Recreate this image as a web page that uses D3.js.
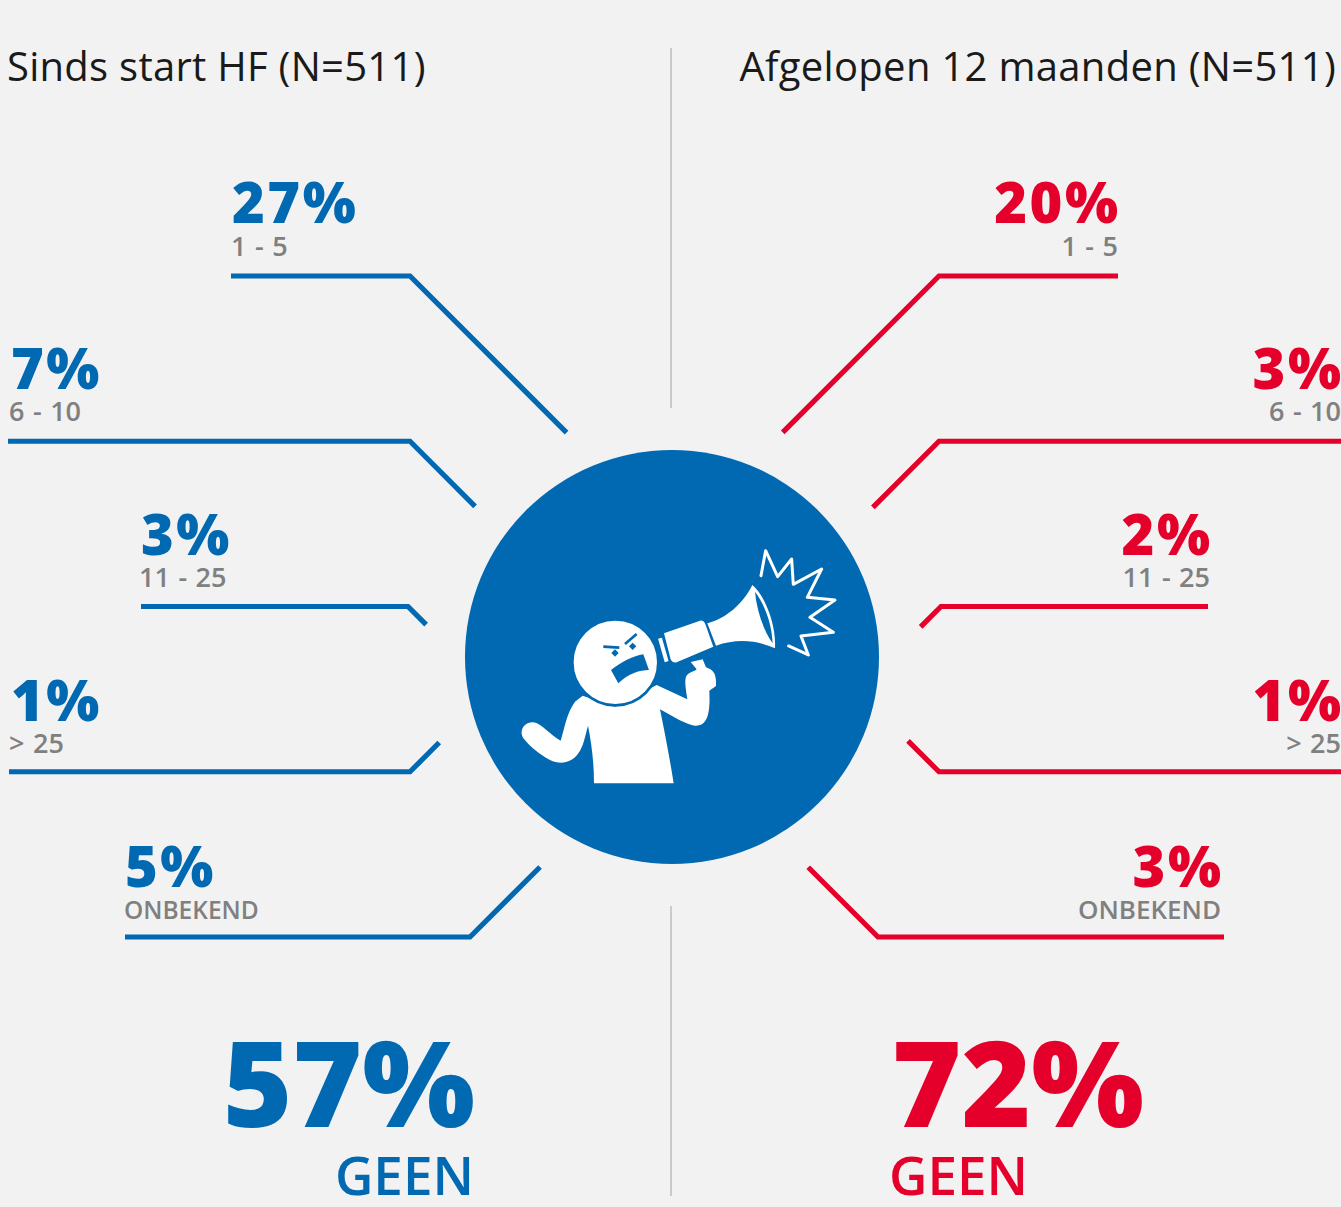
<!DOCTYPE html>
<html>
<head>
<meta charset="utf-8">
<script src="https://cdn.jsdelivr.net/npm/d3@7"></script>
<style>
  html, body { margin: 0; padding: 0; background: #f2f2f2; }
  svg { display: block; }
  text { font-family: "Open Sans", sans-serif; }
</style>
</head>
<body>
<div id="chart"></div>
<script>
// Data
const categories = ["1 - 5", "6 - 10", "11 - 25", "> 25", "ONBEKEND"];
const leftValues = [27, 7, 3, 1, 5];
const rightValues = [20, 3, 2, 1, 3];
const leftNone = 57;
const rightNone = 72;
const leftTitle = "Sinds start HF (N=511)";
const rightTitle = "Afgelopen 12 maanden (N=511)";
const noneLabel = "GEEN";

const width = 1341;
const height = 1207;
const blue = "#0069b1";
const red = "#e4002b";
const grey = "#808080";

// where each leader line starts and where it bends, one per category
const leftStart = [231, 8, 141, 9, 125];
const leftElbow = [410, 410, 408, 410, 470];
const rightStart = [1118, 1341, 1208, 1341, 1224];
const rightElbow = [939, 939, 941, 939, 878];

// text does not sit exactly on the line ends
const leftValueX = [232, 11, 141, 11, 125];
const leftLabelX = [231, 9, 139, 9, 124];
const rightTextX = [1118, 1341, 1210, 1341, 1221];

const center = {x: 672, y: 657};
const circleR = 207;

const svg = d3.select("#chart")
  .append("svg")
  .attr("width", width)
  .attr("height", height)
  .attr("viewBox", [0, 0, width, height]);

svg.append("rect")
  .attr("width", width)
  .attr("height", height)
  .attr("fill", "#f2f2f2");

// one row per category: the line, the value and the label each have their own spacing
const yScale = d3.scalePoint().domain(categories).range([276, 937]);
const valueY = d3.scalePoint().domain(categories).range([223, 887]);
const labelY = d3.scalePoint().domain(categories).range([255.5, 919]);

// walk the 45 degree diagonal from the elbow until it hits the leader radius
function diagonalEnd(ex, ey, radius) {
  const dx = ex < center.x ? 1 : -1;
  const dy = ey < center.y ? 1 : -1;
  const ox = ex - center.x;
  const oy = ey - center.y;
  const b = dx * ox + dy * oy;
  const c = ox * ox + oy * oy - radius * radius;
  const t = (-2 * b - Math.sqrt(4 * b * b - 8 * c)) / 4;
  return [ex + dx * t, ey + dy * t];
}

const line = d3.line();

function drawSide(values, starts, elbows, valueX, labelX, radius, wordSize, color, anchor) {
  const g = svg.append("g");

  categories.forEach((cat, i) => {
    const y = yScale(cat);
    g.append("path")
      .attr("d", line([[starts[i], y], [elbows[i], y], diagonalEnd(elbows[i], y, radius)]))
      .attr("fill", "none")
      .attr("stroke", color)
      .attr("stroke-width", 5.2);

    g.append("text")
      .attr("x", valueX[i] + (anchor === "end" ? 2.5 : 0))
      .attr("y", valueY(cat))
      .attr("text-anchor", anchor)
      .attr("fill", color)
      .attr("font-size", 56)
      .attr("font-weight", 800)
      .attr("letter-spacing", 2.5)
      .text(values[i] + "%");

    // ONBEKEND has its own size on each side
    const isWord = cat === "ONBEKEND";
    g.append("text")
      .attr("x", labelX[i])
      .attr("y", labelY(cat))
      .attr("text-anchor", anchor)
      .attr("fill", grey)
      .attr("font-size", isWord ? wordSize : 27)
      .attr("font-weight", 600)
      .attr("word-spacing", isWord ? 0 : 1.5)
      .text(cat);
  });
}

drawSide(leftValues, leftStart, leftElbow, leftValueX, leftLabelX, 248, 24.5, blue, "start");
drawSide(rightValues, rightStart, rightElbow, rightTextX, rightTextX, 250.5, 26, red, "end");

// separators
[[48, 408], [906, 1196]].forEach(s => {
  svg.append("line")
    .attr("x1", 671).attr("x2", 671)
    .attr("y1", s[0]).attr("y2", s[1])
    .attr("stroke", "#bdbdbd")
    .attr("stroke-width", 1.5);
});

// titles
svg.append("text")
  .attr("x", 7).attr("y", 81)
  .attr("font-size", 40)
  .attr("letter-spacing", 0.27)
  .attr("fill", "#1a1a1a")
  .text(leftTitle);

svg.append("text")
  .attr("x", 1336).attr("y", 81)
  .attr("text-anchor", "end")
  .attr("font-size", 40)
  .attr("letter-spacing", 0.3)
  .attr("fill", "#1a1a1a")
  .text(rightTitle);

// big numbers at the bottom
svg.append("text")
  .attr("x", 349).attr("y", 1127)
  .attr("text-anchor", "middle")
  .attr("font-size", 119)
  .attr("font-weight", 800)
  .attr("fill", blue)
  .text(leftNone + "%");

svg.append("text")
  .attr("x", 1018).attr("y", 1127)
  .attr("text-anchor", "middle")
  .attr("font-size", 119)
  .attr("font-weight", 800)
  .attr("fill", red)
  .text(rightNone + "%");

svg.append("text")
  .attr("x", 474).attr("y", 1195)
  .attr("text-anchor", "end")
  .attr("font-size", 53)
  .attr("font-weight", 600)
  .attr("fill", blue)
  .text(noneLabel);

svg.append("text")
  .attr("x", 889).attr("y", 1195)
  .attr("font-size", 53)
  .attr("font-weight", 600)
  .attr("fill", red)
  .text(noneLabel);

// center circle with the shouting figure
svg.append("circle")
  .attr("cx", center.x)
  .attr("cy", center.y)
  .attr("r", circleR)
  .attr("fill", blue);

// icon traced at 3x, so it gets scaled back down
const icon = svg.append("g")
  .attr("transform", "translate(500,530) scale(0.3333)");

icon.append("path")
  .attr("fill", "#fff")
  .attr("d", "M248,497 L345,530 L470,465 L562,508 C558,480 553,455 558,440 C565,425 585,425 590,418 L572,396 L608,388 L618,412 C640,420 650,430 648,468 L628,482 C630,530 630,590 585,587 C560,585 520,560 480,538 C495,610 510,690 521,760 L282,760 C282,700 275,640 264,587 C255,620 250,650 235,670 C215,700 180,705 150,690 C120,675 90,650 70,625 C55,600 75,575 100,577 C125,580 150,615 182,632 C195,590 200,550 225,515 Z");

icon.append("circle")
  .attr("cx", 346).attr("cy", 397).attr("r", 129)
  .attr("fill", "#fff")
  .attr("stroke", blue)
  .attr("stroke-width", 8);

// face
icon.append("path")
  .attr("fill", blue)
  .attr("d", "M333,420 C365,395 400,378 430,373 L447,420 C420,420 385,430 355,460 Z");
icon.append("path")
  .attr("fill", "none")
  .attr("stroke", blue)
  .attr("stroke-width", 8)
  .attr("d", "M310,350 L358,353 M375,342 L410,312");
icon.append("path")
  .attr("fill", blue)
  .attr("d", "M345,358 L356,369 L345,380 L334,369 Z M398,338 L409,349 L398,360 L387,349 Z");

// megaphone
icon.append("path")
  .attr("fill", "#fff")
  .attr("d", "M492,310 L600,272 Q612,270 617,285 L640,350 L530,397 Q518,400 512,388 Z");
icon.append("path")
  .attr("stroke", "#fff")
  .attr("stroke-width", 12)
  .attr("d", "M480,325 L500,395");
icon.append("path")
  .attr("fill", "#fff")
  .attr("d", "M622,280 C680,265 730,220 757,165 C790,190 830,280 825,355 C770,330 710,325 648,347 Z");
icon.append("path")
  .attr("fill", blue)
  .attr("d", "M765,185 C795,225 815,280 818,340 C790,300 770,240 765,185 Z");

// the shout
icon.append("path")
  .attr("fill", "none")
  .attr("stroke", "#fff")
  .attr("stroke-width", 9)
  .attr("stroke-linejoin", "round")
  .attr("stroke-linecap", "round")
  .attr("d", "M783,137 L797,62 L833,140 L875,87 L880,163 L965,117 L922,202 L1005,210 L930,262 L1000,307 L903,318 L925,375 L866,348");
</script>
</body>
</html>
